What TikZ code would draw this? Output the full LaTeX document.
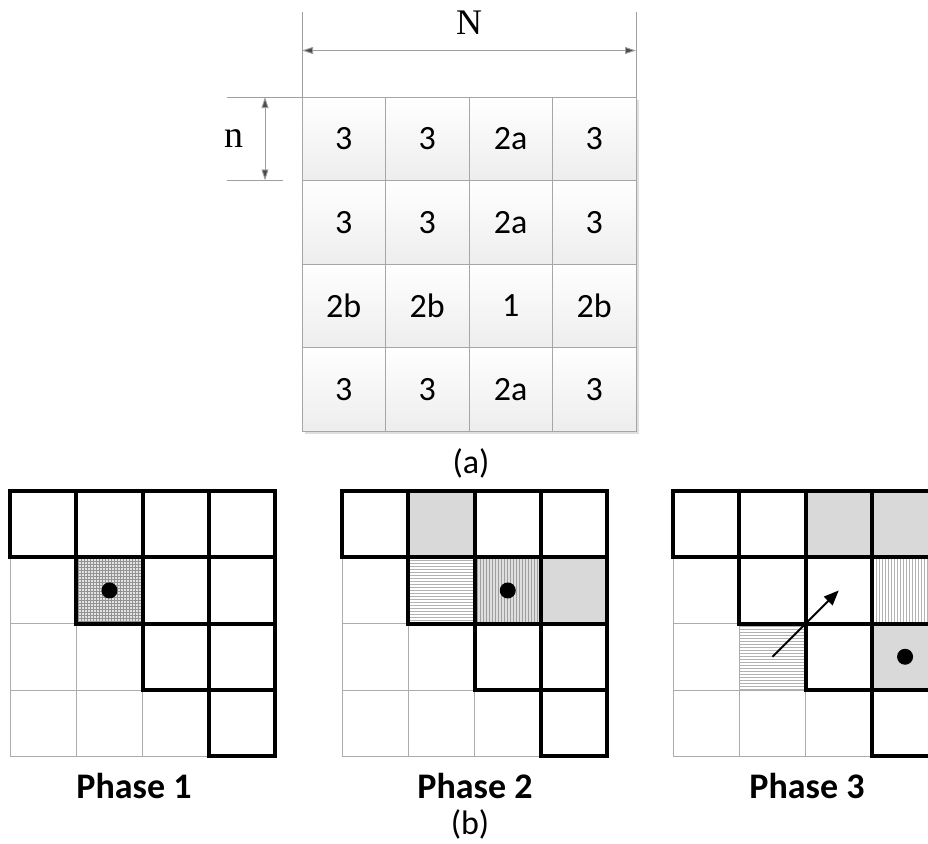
\documentclass[tikz,border=0pt]{standalone}
\usepackage{fontspec}
\setmainfont{Carlito}
\newfontfamily\serifN{Liberation Serif}
\usetikzlibrary{arrows.meta,patterns}
\tikzset{
  topcell/.style={draw=gray!70, line width=0.8pt, top color=white, bottom color=gray!14},
  celltext/.style={font=\fontsize{34}{40}\selectfont, inner sep=0pt},
  dimline/.style={draw=gray!75, line width=0.9pt},
  dimarrow/.style={draw=gray!75, line width=0.9pt, {Triangle[length=11pt,width=7pt,fill=black!70]}-{Triangle[length=11pt,width=7pt,fill=black!70]}},
  thingrid/.style={draw=gray!65, line width=0.8pt},
  thickcell/.style={draw=black, line width=4pt, line join=miter},
  dotmark/.style={fill=black},
  caption/.style={font=\fontsize{34}{40}\selectfont, inner sep=0pt, anchor=base},
  phaselabel/.style={font=\bfseries\fontsize{36}{40}\selectfont, inner sep=0pt, anchor=base},
  movearrow/.style={draw=black, line width=2pt, -{Triangle[length=15pt,width=12pt]}}
}
\def\cs{66.3}
\def\gy{491}
\def\ts{83.5}
\newcommand\PhCell[4]{\fill[#4] ({#1+#2*\cs},{\gy+#3*\cs}) rectangle ++(\cs,\cs);}
\newcommand\PhGrid[1]{%
  \foreach \r in {0,...,3}{\foreach \c in {0,...,3}{
    \draw[thingrid] ({#1+\c*\cs},{\gy+\r*\cs}) rectangle ++(\cs,\cs);}}%
  \foreach \r in {0,...,3}{\foreach \c in {\r,...,3}{
    \draw[thickcell] ({#1+\c*\cs},{\gy+\r*\cs}) rectangle ++(\cs,\cs);}}%
}
\newcommand\PhDot[3]{\fill[dotmark] ({#1+(#2+0.5)*\cs},{\gy+(#3+0.5)*\cs}) circle (8);}
\begin{document}
\begin{tikzpicture}[x=1pt,y=-1pt]
\useasboundingbox (0,0) rectangle (928,843);
\clip (0,0) rectangle (928,843);
\fill[white] (0,0) rectangle (928,843);

% ---------- (a) ----------
\fill[gray!25] (305,100) rectangle (639,434);
\foreach \r/\row in {0/{3,3,2a,3},1/{3,3,2a,3},2/{2b,2b,1,2b},3/{3,3,2a,3}}{
  \foreach \t [count=\c from 0] in \row {
    \draw[topcell] ({302+\c*\ts},{97+\r*\ts}) rectangle ++(\ts,\ts);
    \node[celltext] (t\r\c) at ({302+(\c+0.5)*\ts},{97+(\r+0.5)*\ts}) {\t};
  }
}
% dimension N
\coordinate (NL) at (302,50.5);
\coordinate (NR) at (636,50.5);
\draw[dimline] (302,12) -- (302,97);
\draw[dimline] (636,12) -- (636,97);
\draw[dimarrow] (NL) -- (NR);
\node[font=\serifN\fontsize{36}{40}\selectfont, inner sep=0pt, anchor=base] (Nlab) at (469,35) {N};
% dimension n
\coordinate (nT) at (265,97);
\coordinate (nB) at (265,180.5);
\draw[dimline] (227,97) -- (302,97);
\draw[dimline] (227,180.5) -- (283,180.5);
\draw[dimarrow] (nT) -- (nB);
\node[font=\serifN\fontsize{38}{40}\selectfont, inner sep=0pt, anchor=base] (nlab) at (234,147) {n};
\node[caption] (capa) at (471,473) {(a)};

% ---------- Phase 1 ----------
\PhCell{10}{1}{1}{gray!22}
\PhCell{10}{1}{1}{pattern=grid, pattern color=gray!85}
\PhGrid{10}
\PhDot{10}{1}{1}
\node[phaselabel] (p1) at (134,798) {Phase 1};

% ---------- Phase 2 ----------
\PhCell{342}{1}{0}{gray!30}
\PhCell{342}{3}{1}{gray!30}
\PhCell{342}{1}{1}{pattern=horizontal lines, pattern color=gray!60}
\PhCell{342}{2}{1}{gray!25}
\PhCell{342}{2}{1}{pattern=vertical lines, pattern color=gray!75}
\PhGrid{342}
\PhDot{342}{2}{1}
\node[phaselabel] (p2) at (475,798) {Phase 2};

% ---------- Phase 3 ----------
\PhCell{673}{2}{0}{gray!30}
\PhCell{673}{3}{0}{gray!30}
\PhCell{673}{3}{2}{gray!30}
\PhCell{673}{3}{1}{pattern=vertical lines, pattern color=gray!60}
\PhCell{673}{1}{2}{pattern=horizontal lines, pattern color=gray!60}
\PhGrid{673}
\PhDot{673}{3}{2}
\coordinate (mvA) at ({673+1.5*\cs},{\gy+2.5*\cs});
\coordinate (mvB) at ({673+2.5*\cs},{\gy+1.5*\cs});
\draw[movearrow] (mvA) -- (mvB);
\node[phaselabel] (p3) at (807,798) {Phase 3};

\node[caption] (capb) at (470,834) {(b)};
\end{tikzpicture}
\end{document}
